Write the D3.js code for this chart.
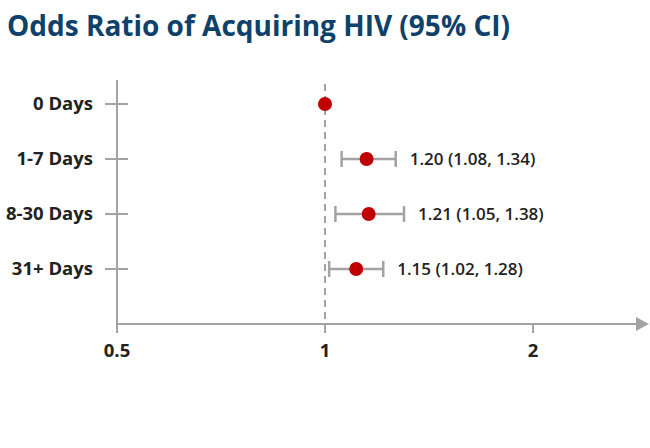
<!DOCTYPE html>
<html>
<head>
<meta charset="utf-8">
<script src="https://cdn.jsdelivr.net/npm/d3@7"></script>
<style>
  body { margin: 0; background: #fff; }
  svg { display: block; font-family: "Open Sans", Lato, sans-serif; }
</style>
</head>
<body>
<div id="chart"></div>
<script>
// forest plot data
const categories = ["0 Days", "1-7 Days", "8-30 Days", "31+ Days"];
const oddsRatio = [1.00, 1.20, 1.21, 1.15];
const ciLower = [null, 1.08, 1.05, 1.02];
const ciUpper = [null, 1.34, 1.38, 1.28];
const xTicks = [0.5, 1, 2];

const width = 650, height = 448;
const gray = "#a3a3a3";

const svg = d3.select("#chart").append("svg")
    .attr("width", width)
    .attr("height", height);

svg.append("text")
    .attr("x", 7)
    .attr("y", 36)
    .attr("fill", "#0f426a")
    .attr("font-size", 28)
    .attr("font-weight", 700)
    .text("Odds Ratio of Acquiring HIV (95% CI)");

// 0.5 | 1 | 2 spaced evenly, linear inside each segment
const x = d3.scaleLinear().domain(xTicks).range([117, 325, 533]);
const y = d3.scalePoint().domain(categories).range([104, 269]);
const axisY = 324;

// y axis
svg.append("line")
    .attr("x1", x(0.5)).attr("x2", x(0.5))
    .attr("y1", 80).attr("y2", axisY + 9)
    .attr("stroke", gray).attr("stroke-width", 2);

svg.selectAll(".ytick")
    .data(categories)
    .join("line")
    .attr("x1", x(0.5) - 12).attr("x2", x(0.5) + 11)
    .attr("y1", d => y(d)).attr("y2", d => y(d))
    .attr("stroke", gray).attr("stroke-width", 2);

svg.selectAll(".ylab")
    .data(categories)
    .join("text")
    .attr("x", 93)
    .attr("y", d => y(d))
    .attr("dy", "0.35em")
    .attr("text-anchor", "end")
    .attr("font-size", 18.5)
    .attr("font-weight", 700)
    .attr("fill", "#222")
    .text(d => d);

// reference line at OR = 1
svg.append("line")
    .attr("x1", x(1)).attr("x2", x(1))
    .attr("y1", 84).attr("y2", axisY)
    .attr("stroke", gray).attr("stroke-width", 2)
    .attr("stroke-dasharray", "7,5");

// x axis with arrow
svg.append("line")
    .attr("x1", x(0.5)).attr("x2", 637)
    .attr("y1", axisY).attr("y2", axisY)
    .attr("stroke", gray).attr("stroke-width", 2);

svg.append("path")
    .attr("d", `M636,${axisY - 7}L649,${axisY}L636,${axisY + 7}Z`)
    .attr("fill", gray);

svg.selectAll(".xtick")
    .data(xTicks.slice(1))
    .join("line")
    .attr("x1", d => x(d)).attr("x2", d => x(d))
    .attr("y1", axisY).attr("y2", axisY + 9)
    .attr("stroke", gray).attr("stroke-width", 2);

svg.selectAll(".xlab")
    .data(xTicks)
    .join("text")
    .attr("x", d => x(d))
    .attr("y", 357)
    .attr("text-anchor", "middle")
    .attr("font-size", 18.5)
    .attr("font-weight", 700)
    .attr("fill", "#222")
    .text(d => d);

// error bars
const rows = categories.map((c, i) => ({ c, or: oddsRatio[i], lo: ciLower[i], hi: ciUpper[i] }));
const withCI = rows.filter(d => d.lo != null);

const eb = svg.selectAll(".eb").data(withCI).join("g")
    .attr("stroke", gray).attr("stroke-width", 2.5);
eb.append("line")
    .attr("x1", d => x(d.lo)).attr("x2", d => x(d.hi))
    .attr("y1", d => y(d.c)).attr("y2", d => y(d.c));
eb.append("line")
    .attr("x1", d => x(d.lo)).attr("x2", d => x(d.lo))
    .attr("y1", d => y(d.c) - 8).attr("y2", d => y(d.c) + 8);
eb.append("line")
    .attr("x1", d => x(d.hi)).attr("x2", d => x(d.hi))
    .attr("y1", d => y(d.c) - 8).attr("y2", d => y(d.c) + 8);

svg.selectAll(".dot")
    .data(rows)
    .join("circle")
    .attr("cx", d => x(d.or))
    .attr("cy", d => y(d.c))
    .attr("r", 7)
    .attr("fill", "#c00000");

svg.selectAll(".vlab")
    .data(withCI)
    .join("text")
    .attr("x", d => x(d.hi) + 14)
    .attr("y", d => y(d.c))
    .attr("dy", "0.35em")
    .attr("font-size", 17)
    .attr("font-weight", 600)
    .attr("fill", "#222")
    .text(d => `${d.or.toFixed(2)} (${d.lo.toFixed(2)}, ${d.hi.toFixed(2)})`);
</script>
</body>
</html>
